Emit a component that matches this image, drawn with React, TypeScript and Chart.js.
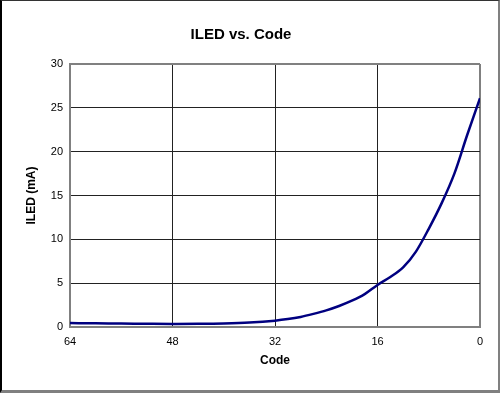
import React, { useEffect, useRef } from "react";
import { Chart, registerables } from "chart.js";

Chart.register(...registerables);

const codes = [64, 60, 56, 52, 48, 44, 40, 36, 32, 30, 28, 26, 24, 22, 20, 18, 16, 14, 12, 10, 8, 6, 4, 2, 0];
const iledMA = [0.45, 0.42, 0.4, 0.37, 0.35, 0.36, 0.4, 0.5, 0.72, 0.9, 1.15, 1.5, 1.9, 2.4, 3.0, 3.75, 4.8, 5.7, 6.8, 8.6, 11.2, 14.1, 17.5, 21.9, 26.1];
const xTicks = [64, 48, 32, 16, 0];
const yTicks = [0, 5, 10, 15, 20, 25, 30];

const W = 496;
const H = 389;

export default function App() {
  const ref = useRef<HTMLCanvasElement | null>(null);
  useEffect(() => {
    if (!ref.current) return;
    const font = "'Liberation Sans', Arial, Helvetica, sans-serif";
    const chart = new Chart(ref.current, {
      type: "line",
      data: {
        datasets: [
          {
            label: "ILED",
            data: codes.map((c, i) => ({ x: c, y: iledMA[i] })),
            borderColor: "#000080",
            backgroundColor: "#000080",
            borderWidth: 2.5,
            pointRadius: 0,
            cubicInterpolationMode: "monotone",
            fill: false,
          },
        ],
      },
      options: {
        responsive: false,
        animation: false,
        layout: { padding: { left: 0, right: 18, top: 0, bottom: 0 } },
        plugins: {
          legend: { display: false },
          tooltip: { enabled: false },
          title: {
            display: true,
            text: "ILED vs. Code",
            color: "#000",
            font: { family: font, size: 15, weight: "bold", lineHeight: 1.2 },
            padding: { top: 25, bottom: 20 },
          },
        },
        scales: {
          x: {
            type: "linear",
            min: 0,
            max: 64,
            reverse: true,
            afterBuildTicks: (s: any) => {
              s.ticks = xTicks.map((v) => ({ value: v }));
            },
            afterFit: (s: any) => {
              s.height = 63;
            },
            ticks: {
              color: "#000",
              font: { family: font, size: 11 },
              padding: 8,
              maxRotation: 0,
            },
            grid: {
              drawTicks: false,
              color: (ctx: any) =>
                ctx.tick && (ctx.tick.value === 0 || ctx.tick.value === 64) ? "#808080" : "#222",
              lineWidth: (ctx: any) =>
                ctx.tick && (ctx.tick.value === 0 || ctx.tick.value === 64) ? 2 : 1,
            },
            border: { display: true, color: "#808080", width: 2 },
            title: {
              display: true,
              text: "Code",
              color: "#000",
              font: { family: font, size: 12, weight: "bold", lineHeight: 1.2 },
              padding: { top: 0, bottom: 22 },
            },
          },
          y: {
            type: "linear",
            min: 0,
            max: 30,
            afterBuildTicks: (s: any) => {
              s.ticks = yTicks.map((v) => ({ value: v }));
            },
            afterFit: (s: any) => {
              s.width = 68;
            },
            ticks: {
              color: "#000",
              font: { family: font, size: 11 },
              padding: 7,
            },
            grid: {
              drawTicks: false,
              color: (ctx: any) =>
                ctx.tick && (ctx.tick.value === 0 || ctx.tick.value === 30) ? "#808080" : "#222",
              lineWidth: (ctx: any) =>
                ctx.tick && (ctx.tick.value === 0 || ctx.tick.value === 30) ? 2 : 1,
            },
            border: { display: true, color: "#808080", width: 2 },
            title: {
              display: true,
              text: "ILED (mA)",
              color: "#000",
              font: { family: font, size: 12, weight: "bold", lineHeight: 1.2 },
              padding: { top: 22, bottom: 0 },
            },
          },
        },
      },
    });
    return () => chart.destroy();
  }, []);

  return (
    <div
      style={{
        position: "absolute",
        left: 0,
        top: 0,
        width: W,
        height: H,
        background: "#fff",
        borderTop: "1px solid #333",
        borderLeft: "2px solid #000",
        borderRight: "2px solid #808080",
        borderBottom: "3px solid #808080",
      }}
    >
      <canvas ref={ref} width={W} height={H} style={{ display: "block", width: W, height: H }} />
    </div>
  );
}
